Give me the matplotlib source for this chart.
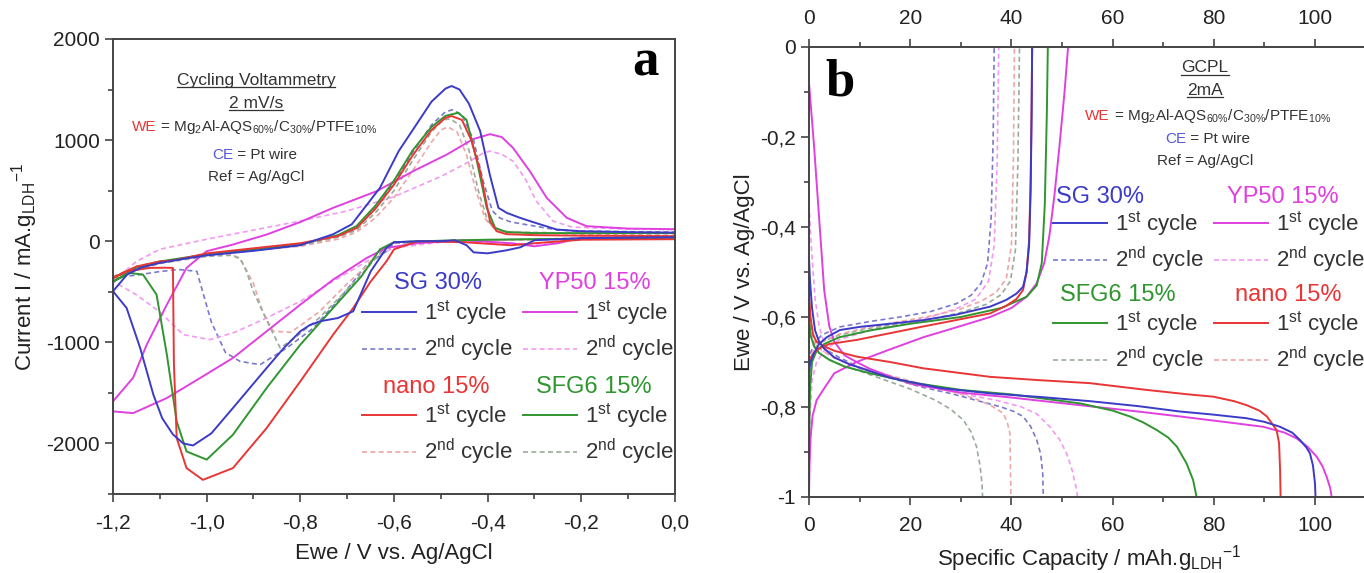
import matplotlib
matplotlib.use("Agg")
import matplotlib.pyplot as plt
from matplotlib.lines import Line2D
from matplotlib.legend import Legend
from matplotlib.ticker import MultipleLocator, FuncFormatter

plt.rcParams.update({
    "font.family": "Liberation Sans",
    "mathtext.fontset": "custom",
    "mathtext.rm": "Liberation Sans",
    "mathtext.it": "Liberation Sans:italic",
    "mathtext.bf": "Liberation Sans:bold",
})

# ============================================================
# Data: (a) cyclic voltammetry loops, V vs Ag/AgCl and mA/g
# ============================================================
cv_sg1_v = [-1.2, -1.17, -1.14, -1.1, -1.05, -1.0, -0.9, -0.8, -0.73, -0.69, -0.63, -0.59, -0.56, -0.52,
            -0.49, -0.477, -0.46, -0.44, -0.416, -0.395, -0.377, -0.359, -0.33, -0.309, -0.253, -0.203,
            -0.1, 0.0,
            0.0, -0.1, -0.2, -0.3, -0.33, -0.36, -0.40, -0.43, -0.445, -0.47, -0.5, -0.55, -0.6, -0.616,
            -0.65, -0.687, -0.72, -0.758, -0.78, -0.80, -0.836, -0.872, -0.944, -0.99, -1.029, -1.05,
            -1.072, -1.095, -1.114, -1.142, -1.171, -1.2]
cv_sg1_i = [-495, -330, -260, -215, -175, -140, -95, -40, 69, 168, 528, 891, 1100, 1380,
            1510, 1535, 1500, 1360, 1089, 650, 330, 280, 230, 198, 116, 99,
            90, 85,
            40, 35, 30, 10, -60, -90, -120, -110, -40, 10, 0, 0, -10, -66,
            -300, -693, -760, -792, -830, -891, -1060, -1254, -1650, -1900, -2020, -2000,
            -1911, -1750, -1515, -1056, -660, -495]

cv_sg2_v = [-1.2, -1.15, -1.1, -1.0, -0.9, -0.8, -0.72, -0.68, -0.64, -0.6, -0.56, -0.52, -0.49, -0.475,
            -0.455, -0.43, -0.41, -0.39, -0.374, -0.35, -0.3, -0.25, -0.2, 0.0,
            0.0, -0.2, -0.4, -0.5, -0.6, -0.616, -0.658, -0.715, -0.772, -0.829, -0.886, -0.929, -0.96,
            -0.99, -1.021, -1.06, -1.1, -1.142, -1.2]
cv_sg2_i = [-363, -260, -210, -140, -90, -40, 50, 130, 330, 580, 880, 1150, 1280, 1300,
            1250, 1000, 600, 300, 230, 190, 150, 110, 100, 90,
            40, 30, 10, 0, -20, -99, -231, -561, -858, -1056, -1221, -1188, -1100,
            -800, -297, -280, -300, -330, -363]

cv_yp1_v = [-1.2, -1.157, -1.128, -1.085, -1.043, -1.0, -0.944, -0.872, -0.8, -0.73, -0.637, -0.559,
            -0.487, -0.431, -0.395, -0.37, -0.346, -0.31, -0.274, -0.231, -0.189, -0.1, 0.0,
            0.0, -0.2, -0.25, -0.3, -0.35, -0.45, -0.55, -0.616, -0.658, -0.73, -0.8, -0.872, -0.944,
            -1.014, -1.085, -1.157, -1.2, -1.2]
cv_yp1_i = [-1584, -1350, -1023, -627, -264, -99, -33, 66, 190, 330, 495, 693,
            858, 1010, 1059, 1030, 924, 693, 429, 231, 149, 125, 119,
            40, 35, -20, -50, -20, 10, -20, -66, -165, -380, -627, -891, -1155,
            -1353, -1551, -1700, -1683, -1584]

cv_yp2_v = [-1.2, -1.15, -1.1, -1.0, -0.9, -0.8, -0.7, -0.6, -0.5, -0.45, -0.41, -0.395, -0.37, -0.346,
            -0.32, -0.296, -0.26, -0.22, -0.1, 0.0,
            0.0, -0.2, -0.3, -0.4, -0.5, -0.602, -0.658, -0.73, -0.8, -0.872, -0.94, -0.993, -1.05,
            -1.1, -1.15, -1.2]
cv_yp2_i = [-396, -200, -80, 20, 110, 200, 300, 440, 640, 760, 870, 891, 860, 792,
            620, 396, 198, 140, 120, 115,
            40, 30, -30, -10, -10, -66, -198, -396, -594, -759, -900, -973, -924,
            -700, -530, -396]

cv_nano1_v = [-1.2, -1.15, -1.1, -1.07, -1.0, -0.9, -0.8, -0.72, -0.68, -0.64, -0.6, -0.56, -0.52, -0.49,
              -0.477, -0.455, -0.435, -0.416, -0.395, -0.381, -0.36, -0.3, -0.2, 0.0,
              0.0, -0.2, -0.3, -0.35, -0.45, -0.55, -0.6, -0.616, -0.65, -0.687, -0.73, -0.8, -0.872,
              -0.944, -1.008, -1.043, -1.064, -1.07, -1.072, -1.09, -1.121, -1.171, -1.2]
cv_nano1_i = [-363, -250, -200, -190, -120, -70, -20, 50, 130, 320, 560, 850, 1100, 1220,
              1238, 1200, 1000, 693, 198, 99, 70, 60, 55, 50,
              20, 15, -20, -40, -10, 0, -80, -198, -400, -660, -924, -1386, -1848,
              -2244, -2360, -2244, -1947, -1200, -264, -262, -264, -297, -363]

cv_nano2_v = [-1.2, -1.15, -1.1, -1.0, -0.9, -0.8, -0.72, -0.68, -0.64, -0.6, -0.56, -0.52, -0.5, -0.485,
              -0.465, -0.445, -0.425, -0.405, -0.385, -0.35, -0.2, 0.0,
              0.0, -0.3, -0.5, -0.6, -0.625, -0.66, -0.7, -0.76, -0.82, -0.858, -0.88, -0.9, -0.925,
              -0.944, -0.97, -1.0, -1.1, -1.2]
cv_nano2_i = [-360, -260, -200, -140, -90, -50, 20, 90, 230, 430, 700, 980, 1100, 1130,
              1080, 850, 500, 220, 120, 90, 70, 60,
              25, 15, 0, -15, -70, -250, -420, -700, -900, -891, -700, -420, -200,
              -132, -120, -130, -210, -360]

cv_sfg1_v = [-1.2, -1.15, -1.1, -1.0, -0.9, -0.8, -0.72, -0.68, -0.64, -0.6, -0.56, -0.52, -0.49, -0.463,
             -0.445, -0.423, -0.402, -0.384, -0.36, -0.3, -0.2, 0.0,
             0.0, -0.2, -0.4, -0.5, -0.6, -0.63, -0.67, -0.73, -0.8, -0.872, -0.944, -1.0, -1.043,
             -1.064, -1.085, -1.107, -1.136, -1.164, -1.2]
cv_sfg1_i = [-400, -260, -200, -130, -80, -30, 60, 150, 350, 600, 900, 1130, 1240, 1270,
             1200, 792, 330, 132, 90, 80, 80, 80,
             30, 25, 15, 5, -10, -80, -350, -660, -1023, -1452, -1914, -2160, -2079,
             -1782, -1122, -528, -330, -314, -400]

cv_sfg2_v = [-1.2, -1.15, -1.1, -1.0, -0.9, -0.8, -0.72, -0.68, -0.64, -0.6, -0.56, -0.52, -0.495, -0.48,
             -0.46, -0.44, -0.42, -0.40, -0.38, -0.35, -0.2, 0.0,
             0.0, -0.3, -0.5, -0.6, -0.62, -0.66, -0.7, -0.76, -0.81, -0.843, -0.87, -0.9, -0.915,
             -0.929, -0.95, -1.0, -1.1, -1.2]
cv_sfg2_i = [-350, -250, -200, -140, -90, -40, 40, 110, 280, 500, 800, 1080, 1200, 1210,
             1150, 900, 500, 200, 110, 90, 80, 80,
             30, 20, 5, -10, -70, -280, -480, -760, -950, -1056, -800, -500, -300,
             -165, -140, -150, -220, -350]

# ============================================================
# Data: (b) GCPL, capacity (mAh/g) and Ewe (V)
# ============================================================
gc_sg1_dis_q = [0, 0.2, 0.6, 1.2, 2.0, 3.0, 5.0, 8.0, 12, 16, 26, 36, 46, 55.5, 65, 73.3, 80, 86.5, 90,
                93.1, 95.5, 97.0, 98.3, 99.0, 99.6, 100.0, 100.1]
gc_sg1_dis_e = [-0.47, -0.52, -0.58, -0.63, -0.655, -0.67, -0.69, -0.705, -0.72, -0.735, -0.758, -0.77,
                -0.778, -0.787, -0.798, -0.810, -0.817, -0.825, -0.833, -0.844, -0.857, -0.873, -0.890,
                -0.903, -0.93, -0.97, -1.0]
gc_sg1_chg_q = [0, 0.3, 1.0, 2.0, 3.5, 6.1, 10, 16, 22.6, 29, 35.8, 39, 41, 42.3, 43.0, 43.5, 43.8, 44.0, 44.1]
gc_sg1_chg_e = [-0.72, -0.70, -0.68, -0.66, -0.645, -0.629, -0.622, -0.615, -0.607, -0.595, -0.577, -0.562,
                -0.548, -0.533, -0.50, -0.44, -0.32, -0.15, 0.0]

gc_nano1_dis_q = [0, 0.3, 0.8, 1.5, 3.0, 5.0, 9.4, 16, 22.6, 35.8, 45, 55.5, 66.7, 75, 79.9, 84, 86.5, 89,
                  90.5, 92.4, 92.9, 93.1, 93.2]
gc_nano1_dis_e = [-0.55, -0.60, -0.64, -0.655, -0.665, -0.675, -0.688, -0.70, -0.714, -0.733, -0.740, -0.747,
                  -0.762, -0.772, -0.777, -0.787, -0.796, -0.808, -0.821, -0.851, -0.88, -0.94, -1.0]
gc_nano1_chg_q = [0, 0.3, 1.0, 2.0, 4.0, 9.4, 16, 22.6, 29, 35.8, 39, 41, 42.3, 43.0, 43.5, 43.8, 44.0, 44.1]
gc_nano1_chg_e = [-0.70, -0.69, -0.68, -0.67, -0.66, -0.651, -0.636, -0.621, -0.607, -0.592, -0.575, -0.56,
                  -0.54, -0.50, -0.43, -0.30, -0.12, 0.0]

gc_sfg1_dis_q = [0, 0.3, 1, 2, 4, 7, 12, 20, 30, 40, 53.6, 60, 63.4, 66, 68.7, 71, 72.7, 74.6, 75.9, 76.6]
gc_sfg1_dis_e = [-0.60, -0.64, -0.665, -0.68, -0.695, -0.71, -0.725, -0.745, -0.762, -0.772, -0.792, -0.808,
                 -0.821, -0.834, -0.851, -0.868, -0.888, -0.925, -0.962, -1.0]
gc_sfg1_chg_q = [0, 0.2, 0.6, 1.5, 3, 6, 12, 20, 30, 38, 43, 45, 46, 46.6, 47.0, 47.2]
gc_sfg1_chg_e = [-0.88, -0.76, -0.70, -0.675, -0.66, -0.645, -0.63, -0.615, -0.60, -0.58, -0.555, -0.53,
                 -0.48, -0.35, -0.15, 0.0]

gc_yp1_dis_q = [0, 0.5, 1.0, 1.5, 2.0, 2.5, 3.0, 4.0, 5.0, 7.0, 9.4, 12, 16, 20, 30, 40, 53.6, 65, 73.3, 82,
                89.8, 94, 96.4, 98.5, 100.3, 101.5, 102.3, 103.0, 103.3]
gc_yp1_dis_e = [-0.08, -0.15, -0.22, -0.30, -0.38, -0.46, -0.54, -0.62, -0.655, -0.685, -0.70, -0.715, -0.732,
                -0.748, -0.768, -0.779, -0.796, -0.810, -0.821, -0.833, -0.844, -0.857, -0.870, -0.888,
                -0.910, -0.932, -0.955, -0.98, -1.0]
gc_yp1_chg_q = [0, 0.1, 0.3, 0.7, 1.5, 2.8, 5, 9.4, 16, 22.6, 30, 35.8, 40, 43, 45, 46.5, 47.5, 48.5, 49.5,
                50.5, 51.2]
gc_yp1_chg_e = [-1.0, -0.93, -0.87, -0.82, -0.785, -0.762, -0.725, -0.70, -0.672, -0.645, -0.62, -0.60, -0.58,
                -0.555, -0.525, -0.48, -0.42, -0.33, -0.22, -0.10, 0.0]

gc_sg2_dis_q = [0, 0.5, 1.5, 3, 6, 10, 16, 22, 28, 33, 38, 40.5, 42.3, 43.8, 45.0, 45.8, 46.2, 46.3]
gc_sg2_dis_e = [-0.58, -0.63, -0.655, -0.67, -0.69, -0.712, -0.735, -0.755, -0.77, -0.785, -0.80, -0.81,
                -0.821, -0.843, -0.873, -0.905, -0.95, -1.0]
gc_sg2_chg_q = [0, 0.3, 1, 2.5, 6.1, 12, 18, 24, 29.2, 32, 34, 35.3, 36.0, 36.4, 36.6]
gc_sg2_chg_e = [-0.70, -0.68, -0.66, -0.64, -0.622, -0.61, -0.60, -0.588, -0.57, -0.552, -0.525, -0.48,
                -0.38, -0.20, 0.0]

gc_yp2_dis_q = [0, 0.5, 1.2, 2, 3, 4.5, 7, 10, 16, 22, 30, 37, 42, 45, 47.6, 49.5, 50.9, 52.0, 52.9, 53.1]
gc_yp2_dis_e = [-0.35, -0.45, -0.56, -0.62, -0.66, -0.685, -0.70, -0.715, -0.735, -0.752, -0.77, -0.785,
                -0.80, -0.815, -0.844, -0.872, -0.903, -0.94, -0.985, -1.0]
gc_yp2_chg_q = [0, 0.2, 0.6, 1.5, 3, 6, 12, 18, 24, 29, 33, 35.5, 36.6, 37.2, 37.5]
gc_yp2_chg_e = [-0.95, -0.82, -0.74, -0.70, -0.675, -0.65, -0.63, -0.615, -0.60, -0.582, -0.56, -0.52,
                -0.44, -0.25, 0.0]

gc_sfg2_dis_q = [0, 0.3, 1, 2, 4, 7, 10, 15, 20, 25, 28, 30.5, 32, 33.1, 33.8, 34.2, 34.3]
gc_sfg2_dis_e = [-0.60, -0.64, -0.665, -0.68, -0.695, -0.71, -0.72, -0.74, -0.76, -0.785, -0.805, -0.829,
                 -0.855, -0.888, -0.93, -0.97, -1.0]
gc_sfg2_chg_q = [0, 0.3, 1, 2.5, 6, 12, 18, 24, 30, 35, 38, 39.8, 40.8, 41.3, 41.6]
gc_sfg2_chg_e = [-0.78, -0.70, -0.67, -0.655, -0.64, -0.625, -0.615, -0.605, -0.59, -0.572, -0.55, -0.52,
                 -0.45, -0.25, 0.0]

gc_nano2_dis_q = [0, 0.3, 1, 2, 4, 7, 10, 16, 22, 28, 33, 36, 38.4, 39.2, 39.7, 39.8, 39.9]
gc_nano2_dis_e = [-0.56, -0.62, -0.655, -0.67, -0.685, -0.70, -0.712, -0.73, -0.748, -0.765, -0.782, -0.797,
                  -0.814, -0.835, -0.858, -0.92, -1.0]
gc_nano2_chg_q = [0, 0.3, 1, 2.5, 6, 12, 18, 24, 30, 34, 37, 39, 40.0, 40.4, 40.6]
gc_nano2_chg_e = [-0.72, -0.69, -0.67, -0.655, -0.638, -0.622, -0.61, -0.598, -0.582, -0.565, -0.545, -0.515,
                  -0.44, -0.25, 0.0]

# colours
C_SG, C_SG2 = "#3b3bc8", "#7a7acc"
C_YP, C_YP2 = "#e040e0", "#f39af0"
C_NANO, C_NANO2 = "#e83535", "#efa6a6"
C_SFG, C_SFG2 = "#2f962f", "#9aab9a"
TXT = "#333333"

W, H = 1364, 573
fig = plt.figure(figsize=(W / 100, H / 100), dpi=100)


def px_axes(x0, y0, x1, y1):
    return fig.add_axes([x0 / W, 1 - y1 / H, (x1 - x0) / W, (y1 - y0) / H])


def fx(x):
    return x / W


def fy(y):
    return 1 - y / H


def comma(v, _pos):
    if abs(v - round(v)) < 1e-9:
        return "%d" % round(v)
    return ("%.1f" % v).replace(".", ",")


def style_axes(ax):
    for s in ax.spines.values():
        s.set_color("#444444")
        s.set_linewidth(1.4)
    ax.tick_params(which="both", direction="out", color="#444444", width=1.2,
                   labelsize=15, labelcolor="#222222")
    ax.tick_params(which="major", length=6)
    ax.tick_params(which="minor", length=3.5)


def leg_group(ax, handles, labels, x_px, y_mid_px):
    leg = Legend(ax, handles, labels, ncol=2, loc="center left",
                 bbox_to_anchor=(fx(x_px), fy(y_mid_px)), bbox_transform=fig.transFigure,
                 frameon=False, fontsize=16, handlelength=2.45, handletextpad=0.35,
                 columnspacing=0.45, labelspacing=0.32, borderpad=0, borderaxespad=0)
    for t in leg.get_texts():
        t.set_color(TXT)
    ax.add_artist(leg)


L1 = "1$^{\\mathrm{st}}$ cycle"
L2 = "2$^{\\mathrm{nd}}$ cycle"

underlined = []


def info_block(xc, ys, title, rate, we_x0, ce_x0):
    y_title, y_rate, y_we, y_ce, y_ref = ys
    for s, y in [(title, y_title), (rate, y_rate)]:
        t = fig.text(fx(xc), fy(y), s, fontsize=12.5, color=TXT, ha="center", va="center")
        underlined.append(t)
    t = fig.text(fx(we_x0), fy(y_we), "WE", color="#e83535", fontsize=11, va="center")
    fig.axes[-1].annotate(" = Mg$_2$Al-AQS$_{60\\%}$/C$_{30\\%}$/PTFE$_{10\\%}$", xy=(1, 0.5),
                          xycoords=t, va="center", ha="left", fontsize=11, color=TXT,
                          annotation_clip=False)
    t2 = fig.text(fx(ce_x0), fy(y_ce), "CE", color="#5555dd", fontsize=11, va="center")
    fig.axes[-1].annotate(" = Pt wire", xy=(1, 0.5), xycoords=t2, va="center", ha="left",
                          fontsize=11, color=TXT, annotation_clip=False)
    fig.text(fx(xc), fy(y_ref), "Ref = Ag/AgCl", color=TXT, fontsize=11, ha="center", va="center")


# ============================================================
# (a) CV
# ============================================================
axL = px_axes(113, 39, 675, 494)
style_axes(axL)
kw_d = dict(lw=1.2, ls=(0, (3, 2)))
kw_s = dict(lw=1.4)
d_sg, = axL.plot(cv_sg2_v, cv_sg2_i, color=C_SG2, **kw_d)
d_yp, = axL.plot(cv_yp2_v, cv_yp2_i, color=C_YP2, **kw_d)
d_nano, = axL.plot(cv_nano2_v, cv_nano2_i, color=C_NANO2, **kw_d)
d_sfg, = axL.plot(cv_sfg2_v, cv_sfg2_i, color=C_SFG2, **kw_d)
s_yp, = axL.plot(cv_yp1_v, cv_yp1_i, color=C_YP, **kw_s)
s_sfg, = axL.plot(cv_sfg1_v, cv_sfg1_i, color=C_SFG, **kw_s)
s_nano, = axL.plot(cv_nano1_v, cv_nano1_i, color=C_NANO, **kw_s)
s_sg, = axL.plot(cv_sg1_v, cv_sg1_i, color=C_SG, **kw_s)

axL.set_xlim(-1.2, 0.0)
axL.set_ylim(-2500, 2000)
axL.xaxis.set_major_locator(MultipleLocator(0.2))
axL.xaxis.set_minor_locator(MultipleLocator(0.1))
axL.yaxis.set_major_locator(MultipleLocator(1000))
axL.yaxis.set_minor_locator(MultipleLocator(500))
axL.xaxis.set_major_formatter(FuncFormatter(lambda v, p: ("%.1f" % v).replace(".", ",")))
axL.yaxis.set_major_formatter(FuncFormatter(lambda v, p: "%d" % round(v)))
axL.tick_params(axis="x", pad=8)
axL.set_xlabel("Ewe / V vs. Ag/AgCl", fontsize=16, color="#222222")
axL.set_ylabel("Current I / mA.g$_{\\mathrm{LDH}}$$^{\\mathrm{-1}}$", fontsize=16, color="#222222")
axL.xaxis.set_label_coords(0.5, -0.108)
axL.yaxis.set_label_coords(-0.13, 0.5)

leg_group(axL, [s_sg, d_sg, s_yp, d_yp], [L1, L2, L1, L2], 362, 331)
leg_group(axL, [s_nano, d_nano, s_sfg, d_sfg], [L1, L2, L1, L2], 362, 434)

for txt, col, x, y in [("SG 30%", C_SG, 438, 283), ("YP50 15%", C_YP, 595, 283),
                       ("nano 15%", C_NANO, 436, 387), ("SFG6 15%", C_SFG, 594, 387)]:
    fig.text(fx(x), fy(y), txt, color=col, fontsize=17, ha="center", va="center")

fig.text(fx(645), fy(62), "a", family="Liberation Serif", weight="bold", fontsize=38,
         ha="center", va="center", color="black")

info_block(256, (80, 103, 127, 155, 177), "Cycling Voltammetry", "2 mV/s", 132, 212)

# ============================================================
# (b) GCPL
# ============================================================
axR = px_axes(809, 47, 1370, 497)
style_axes(axR)
series = [
    (gc_sg2_dis_q, gc_sg2_dis_e, gc_sg2_chg_q, gc_sg2_chg_e, C_SG2, kw_d),
    (gc_yp2_dis_q, gc_yp2_dis_e, gc_yp2_chg_q, gc_yp2_chg_e, C_YP2, kw_d),
    (gc_sfg2_dis_q, gc_sfg2_dis_e, gc_sfg2_chg_q, gc_sfg2_chg_e, C_SFG2, kw_d),
    (gc_nano2_dis_q, gc_nano2_dis_e, gc_nano2_chg_q, gc_nano2_chg_e, C_NANO2, kw_d),
    (gc_yp1_dis_q, gc_yp1_dis_e, gc_yp1_chg_q, gc_yp1_chg_e, C_YP, kw_s),
    (gc_sfg1_dis_q, gc_sfg1_dis_e, gc_sfg1_chg_q, gc_sfg1_chg_e, C_SFG, kw_s),
    (gc_nano1_dis_q, gc_nano1_dis_e, gc_nano1_chg_q, gc_nano1_chg_e, C_NANO, kw_s),
    (gc_sg1_dis_q, gc_sg1_dis_e, gc_sg1_chg_q, gc_sg1_chg_e, C_SG, kw_s),
]
hR = []
for dq, de, cq, ce, col, kw in series:
    h, = axR.plot(dq, de, color=col, **kw)
    axR.plot(cq, ce, color=col, **kw)
    hR.append(h)
rd_sg, rd_yp, rd_sfg, rd_nano, rs_yp, rs_sfg, rs_nano, rs_sg = hR

axR.set_xlim(0, (1370 - 809) / 5.06)
axR.set_ylim(-1.0, 0.0)
axR.xaxis.set_major_locator(MultipleLocator(20))
axR.xaxis.set_minor_locator(MultipleLocator(10))
axR.yaxis.set_major_locator(MultipleLocator(0.2))
axR.yaxis.set_minor_locator(MultipleLocator(0.1))
axR.yaxis.set_major_formatter(FuncFormatter(comma))
axR.xaxis.set_major_formatter(FuncFormatter(lambda v, p: "%d" % round(v)))
axR.tick_params(axis="x", which="both", top=True, labeltop=True)
axR.tick_params(axis="x", pad=8)
axR.spines["right"].set_visible(False)
axR.set_xlabel("Specific Capacity / mAh.g$_{\\mathrm{LDH}}$$^{\\mathrm{-1}}$", fontsize=16, color="#222222")
axR.set_ylabel("Ewe / V vs. Ag/AgCl", fontsize=16, color="#222222")
axR.xaxis.set_label_position("bottom")
axR.xaxis.set_label_coords(0.5, -0.102)
axR.yaxis.set_label_coords(-0.096, 0.5)

leg_group(axR, [rs_sg, rd_sg, rs_yp, rd_yp], [L1, L2, L1, L2], 1053, 242)
leg_group(axR, [rs_sfg, rd_sfg, rs_nano, rd_nano], [L1, L2, L1, L2], 1053, 342)
for txt, col, x, y in [("SG 30%", C_SG, 1100, 197), ("YP50 15%", C_YP, 1283, 197),
                       ("SFG6 15%", C_SFG, 1118, 295), ("nano 15%", C_NANO, 1288, 295)]:
    fig.text(fx(x), fy(y), txt, color=col, fontsize=17, ha="center", va="center")

fig.text(fx(840), fy(82), "b", family="Liberation Serif", weight="bold", fontsize=38,
         ha="center", va="center", color="black")

info_block(1205, (68, 90, 116, 139, 161), "GCPL", "2mA", 1085, 1165)

# underline the block titles
renderer = fig.canvas.get_renderer()
for t in underlined:
    bb = t.get_window_extent(renderer)
    fig.add_artist(Line2D([bb.x0 / W, bb.x1 / W], [(bb.y0 + 1) / H] * 2,
                          transform=fig.transFigure, color=TXT, lw=0.9))

fig.savefig("out.png", dpi=100)
